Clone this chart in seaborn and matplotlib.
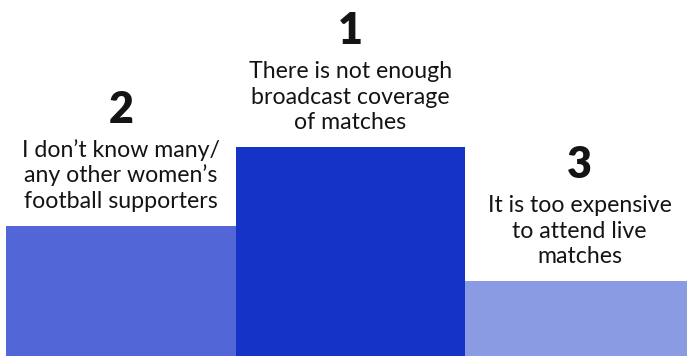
import matplotlib
matplotlib.use("Agg")
import matplotlib.pyplot as plt
import pandas as pd
import seaborn as sns

# Podium order, left to right: second, first, third
ranks = ["2", "1", "3"]
reasons = [
    "I don\u2019t know many/\nany other women\u2019s\nfootball supporters",
    "There is not enough\nbroadcast coverage\nof matches",
    "It is too expensive\nto attend live\nmatches",
]
podium_heights = [130, 209, 75]
bar_colors = ["#5266d8", "#1633c8", "#8a9be3"]

df = pd.DataFrame({"rank": ranks, "height": podium_heights})

sns.set_theme(style="white")
plt.rcParams["font.family"] = ["Lato", "DejaVu Sans"]

W, H = 687, 356
fig = plt.figure(figsize=(W / 100, H / 100), dpi=100)
ax = fig.add_axes([6 / W, 0, 688.5 / W, 1])

sns.barplot(data=df, x="rank", y="height", hue="rank", palette=bar_colors,
            order=ranks, hue_order=ranks, width=1.0, saturation=1,
            legend=False, ax=ax)
for p in ax.patches:
    p.set_edgecolor("none")

ax.set_xlim(-0.5, 2.5)
ax.set_ylim(0, H)
ax.axis("off")

text_color = "#141414"
line_gap = 25.5
for i, (rank, reason, h) in enumerate(zip(ranks, reasons, podium_heights)):
    lines = reason.split("\n")
    last_base = h + 18
    for j, line in enumerate(reversed(lines)):
        ax.text(i, last_base + j * line_gap, line, ha="center", va="baseline",
                fontsize=16.7, color=text_color)
    first_base = last_base + (len(lines) - 1) * line_gap
    ax.text(i, first_base + 34, rank, ha="center", va="baseline",
            fontsize=31, fontweight="heavy", color=text_color)

fig.savefig("out.png", dpi=100)
